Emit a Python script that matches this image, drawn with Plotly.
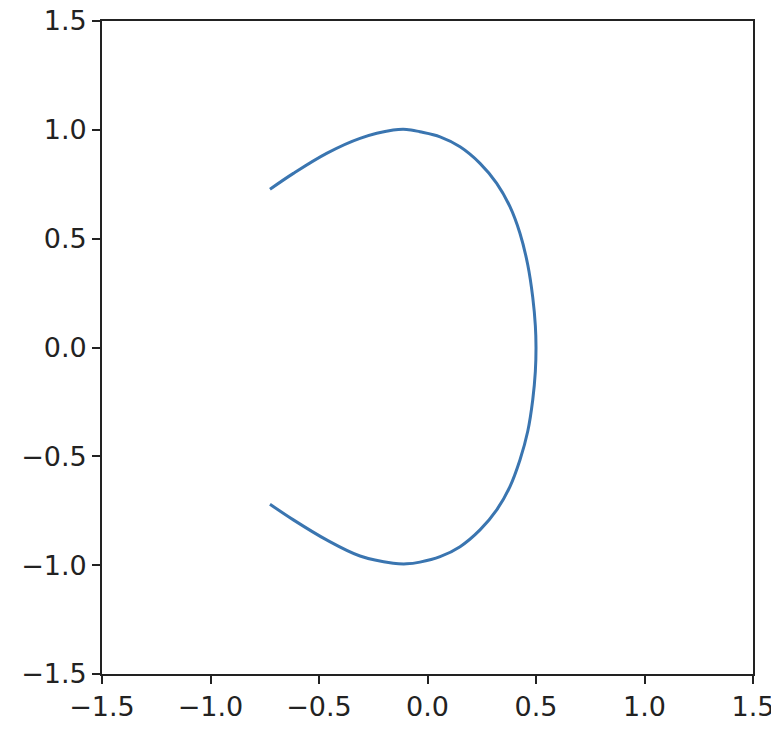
"""
Curve traced from the reference: one open loop on a square [-1.5, 1.5] frame.
"""

import plotly.graph_objects as go

# points, going from the upper-left end round to the lower-left end
curve_x = [-0.726, -0.618, -0.465, -0.311, -0.158, -0.096, -0.035, 0.058, 0.150,
           0.242, 0.319, 0.380, 0.426, 0.462, 0.485, 0.497, 0.500,
           0.497, 0.485, 0.462, 0.426, 0.380, 0.319, 0.242, 0.150, 0.058,
           -0.035, -0.096, -0.158, -0.311, -0.465, -0.618, -0.726]
curve_y = [0.727, 0.800, 0.892, 0.961, 0.999, 1.002, 0.991, 0.968, 0.922,
           0.846, 0.754, 0.647, 0.525, 0.380, 0.230, 0.100, 0.000,
           -0.110, -0.240, -0.385, -0.517, -0.639, -0.746, -0.838, -0.915, -0.961,
           -0.986, -0.994, -0.991, -0.958, -0.884, -0.792, -0.720]

tick_vals = [-1.5, -1.0, -0.5, 0.0, 0.5, 1.0, 1.5]
tick_text = ["\u22121.5", "\u22121.0", "\u22120.5", "0.0", "0.5", "1.0", "1.5"]

fig = go.Figure()
fig.add_trace(go.Scatter(
    x=curve_x,
    y=curve_y,
    mode="lines",
    line=dict(color="#3a75b0", width=3, shape="spline", smoothing=1.0),
    showlegend=False,
))

axis_style = dict(
    range=[-1.5, 1.5],
    tickvals=tick_vals,
    ticktext=tick_text,
    ticks="outside",
    ticklen=8,
    tickwidth=1.6,
    tickcolor="#222222",
    showline=True,
    linecolor="#222222",
    linewidth=1.8,
    mirror=True,
    showgrid=False,
    zeroline=False,
    automargin=False,
    ticklabeloverflow="allow",
    tickfont=dict(family="DejaVu Sans", size=27, color="#222222"),
)

# the page body adds an 8px offset, so margins are shifted to match the frame
fig.update_layout(
    width=779,
    height=740,
    margin=dict(l=94, r=34, t=13, b=74),
    paper_bgcolor="white",
    plot_bgcolor="white",
    xaxis=axis_style,
    yaxis=axis_style,
)

fig.write_html("out.html")
